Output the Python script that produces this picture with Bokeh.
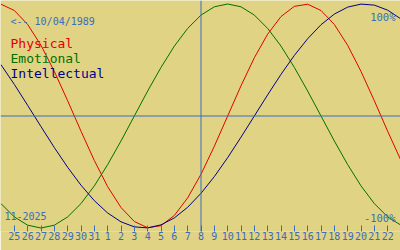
from bokeh.plotting import figure
from bokeh.models import Range1d, Span, Label, FixedTicker
from bokeh.embed import file_html
from bokeh.resources import INLINE

# ---- data ----
day_labels = ["25", "26", "27", "28", "29", "30", "31", "1", "2", "3", "4", "5", "6", "7",
              "8", "9", "10", "11", "12", "13", "14", "15", "16", "17", "18", "19", "20", "21", "22"]
# day index -1 .. 29 (0 = 25th of previous month)
days = list(range(-1, 30))
physical = [0.998, 0.942, 0.817, 0.631, 0.398, 0.136, -0.136, -0.398, -0.631, -0.817, -0.942,
            -0.998, -0.979, -0.888, -0.731, -0.520, -0.270, 0.0, 0.270, 0.520, 0.731, 0.888,
            0.979, 0.998, 0.942, 0.817, 0.631, 0.398, 0.136, -0.136, -0.398]
emotional = [-0.782, -0.901, -0.975, -1.0, -0.975, -0.901, -0.782, -0.624, -0.434, -0.223, 0.0,
             0.223, 0.434, 0.624, 0.782, 0.901, 0.975, 1.0, 0.975, 0.901, 0.782, 0.624, 0.434,
             0.223, 0.0, -0.223, -0.434, -0.624, -0.782, -0.901, -0.975]
intellectual = [0.458, 0.282, 0.095, -0.095, -0.282, -0.458, -0.618, -0.756, -0.866, -0.945,
                -0.990, -0.999, -0.972, -0.910, -0.815, -0.690, -0.541, -0.372, -0.189, 0.0,
                0.189, 0.372, 0.541, 0.690, 0.815, 0.910, 0.972, 0.999, 0.990, 0.945, 0.866]
series_names = ["Physical", "Emotional", "Intellectual"]
today_index = 14
birth_text = "<-- 10/04/1989"
month_text = "11-2025"

# ---- style ----
BG = "#e0d383"
BLUE = "#3a6cbf"
COLORS = ["#e00000", "#007000", "#000088"]
MONO = "DejaVu Sans Mono"

FRAME_W, FRAME_H = 400, 231
ZERO_PX, AMP_PX = 115.5, 112
DAY_PX = 400 / 30
X0 = -1 - 0.5 / DAY_PX
X1 = X0 + FRAME_W / DAY_PX
Y_TOP = ZERO_PX / AMP_PX
Y_BOT = (ZERO_PX - FRAME_H) / AMP_PX

def px_x(px):
    return X0 + px / DAY_PX

def px_y(py):
    return (ZERO_PX - py) / AMP_PX

p = figure(width=400, height=250, x_range=Range1d(X0, X1), y_range=Range1d(Y_BOT, Y_TOP),
           min_border=0, min_border_bottom=19, y_axis_location=None,
           toolbar_location=None, output_backend="svg",
           background_fill_color=BG, border_fill_color=BG, outline_line_color=None)
p.xgrid.visible = False
p.ygrid.visible = False

ax = p.xaxis[0]
ax.ticker = FixedTicker(ticks=list(range(len(day_labels))))
ax.major_label_overrides = {i: t for i, t in enumerate(day_labels)}
ax.axis_line_color = None
ax.major_tick_in = 6
ax.major_tick_out = 0
ax.major_tick_line_color = BLUE
ax.minor_tick_line_color = None
ax.major_label_standoff = 0
ax.major_label_text_font = MONO
ax.major_label_text_font_size = "10px"
ax.major_label_text_color = BLUE

p.add_layout(Span(location=0, dimension="width", line_color=BLUE, line_width=1))
p.add_layout(Span(location=today_index, dimension="height", line_color=BLUE, line_width=1))

for vals, c in zip([physical, emotional, intellectual], COLORS):
    p.line(days, vals, line_color=c, line_width=1)

def lab(text, px, py, color, size, align="left"):
    p.add_layout(Label(x=px_x(px), y=px_y(py), text=text, text_color=color,
                       text_font=MONO, text_font_size=size, text_align=align,
                       text_baseline="alphabetic"))

lab(birth_text, 10, 20.5, BLUE, "10px")
for i, (name, c) in enumerate(zip(series_names, COLORS)):
    lab(name, 10, 42.5 + 15 * i, c, "13px")
lab("100%", 395, 16, BLUE, "10.5px", "right")
lab("-100%", 395, 217, BLUE, "10.5px", "right")
lab(month_text, 4, 215.5, BLUE, "10px")

open("out.html", "w").write(file_html(p, INLINE))
